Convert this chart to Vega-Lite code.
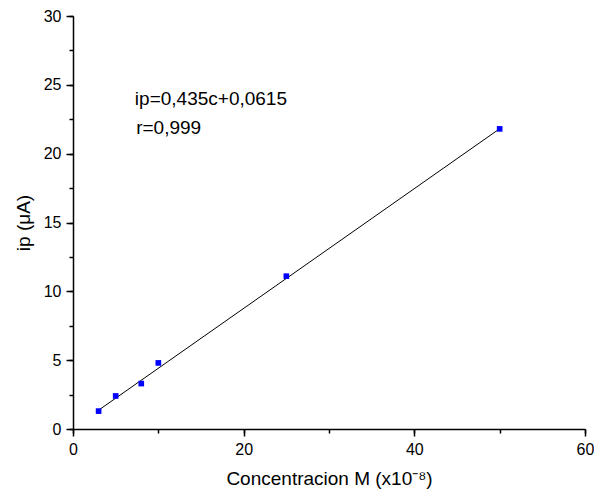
{
  "$schema": "https://vega.github.io/schema/vega-lite/v6.json",
  "width": 512,
  "height": 413,
  "autosize": {"type": "none"},
  "padding": {"left": 73, "top": 16, "right": 9, "bottom": 68},
  "background": "white",
  "config": {
    "view": {"stroke": null},
    "font": "Liberation Sans",
    "axis": {
      "grid": false,
      "domainColor": "black",
      "domainWidth": 1.5,
      "tickColor": "black",
      "tickWidth": 1.5,
      "labelColor": "black",
      "titleColor": "black",
      "labelFont": "Liberation Sans",
      "titleFont": "Liberation Sans",
      "labelFontSize": 16,
      "titleFontSize": 19,
      "titleFontWeight": "normal",
      "labelFlush": false
    }
  },
  "datasets": {
    "pts": [
      {"c": 3, "ip": 1.3},
      {"c": 5, "ip": 2.4},
      {"c": 8, "ip": 3.3},
      {"c": 10, "ip": 4.8},
      {"c": 25, "ip": 11.1},
      {"c": 50, "ip": 21.8}
    ],
    "fit": [
      {"c": 3, "ip": 1.367},
      {"c": 50, "ip": 21.81}
    ],
    "notes": [
      {"c": 7.25, "ip": 24.0, "label": "ip=0,435c+0,0615"},
      {"c": 7.4, "ip": 21.85, "label": "r=0,999"}
    ]
  },
  "layer": [
    {
      "data": {"name": "fit"},
      "mark": {"type": "line", "color": "black", "strokeWidth": 1},
      "encoding": {
        "x": {"field": "c", "type": "quantitative", "scale": {"domain": [0, 60], "nice": false},
          "axis": {"orient": "bottom", "values": [0, 10, 20, 30, 40, 50, 60], "labels": false, "tickSize": 4, "title": null, "domain": true}},
        "y": {"field": "ip", "type": "quantitative", "scale": {"domain": [0, 30], "nice": false},
          "axis": {"orient": "left", "values": [0, 2.5, 5, 7.5, 10, 12.5, 15, 17.5, 20, 22.5, 25, 27.5, 30], "labels": false, "tickSize": 4, "title": null, "domain": true}}
      }
    },
    {
      "data": {"name": "pts"},
      "mark": {"type": "point", "shape": "square", "filled": true, "color": "#0000ff", "size": 32, "opacity": 1},
      "encoding": {
        "x": {"field": "c", "type": "quantitative",
          "axis": {"orient": "bottom", "values": [0, 20, 40, 60], "tickSize": 7, "labelPadding": 5, "title": "Concentracion M (x10⁻⁸)", "titlePadding": 12, "domain": false}},
        "y": {"field": "ip", "type": "quantitative",
          "axis": {"orient": "left", "values": [0, 5, 10, 15, 20, 25, 30], "tickSize": 7, "labelPadding": 5, "title": "ip (μA)", "titlePadding": 10, "domain": false}}
      }
    },
    {
      "data": {"name": "notes"},
      "mark": {"type": "text", "align": "left", "baseline": "middle", "fontSize": 19, "font": "Liberation Sans", "color": "black"},
      "encoding": {
        "x": {"field": "c", "type": "quantitative", "axis": null},
        "y": {"field": "ip", "type": "quantitative", "axis": null},
        "text": {"field": "label"}
      }
    }
  ],
  "resolve": {"axis": {"x": "independent", "y": "independent"}}
}
